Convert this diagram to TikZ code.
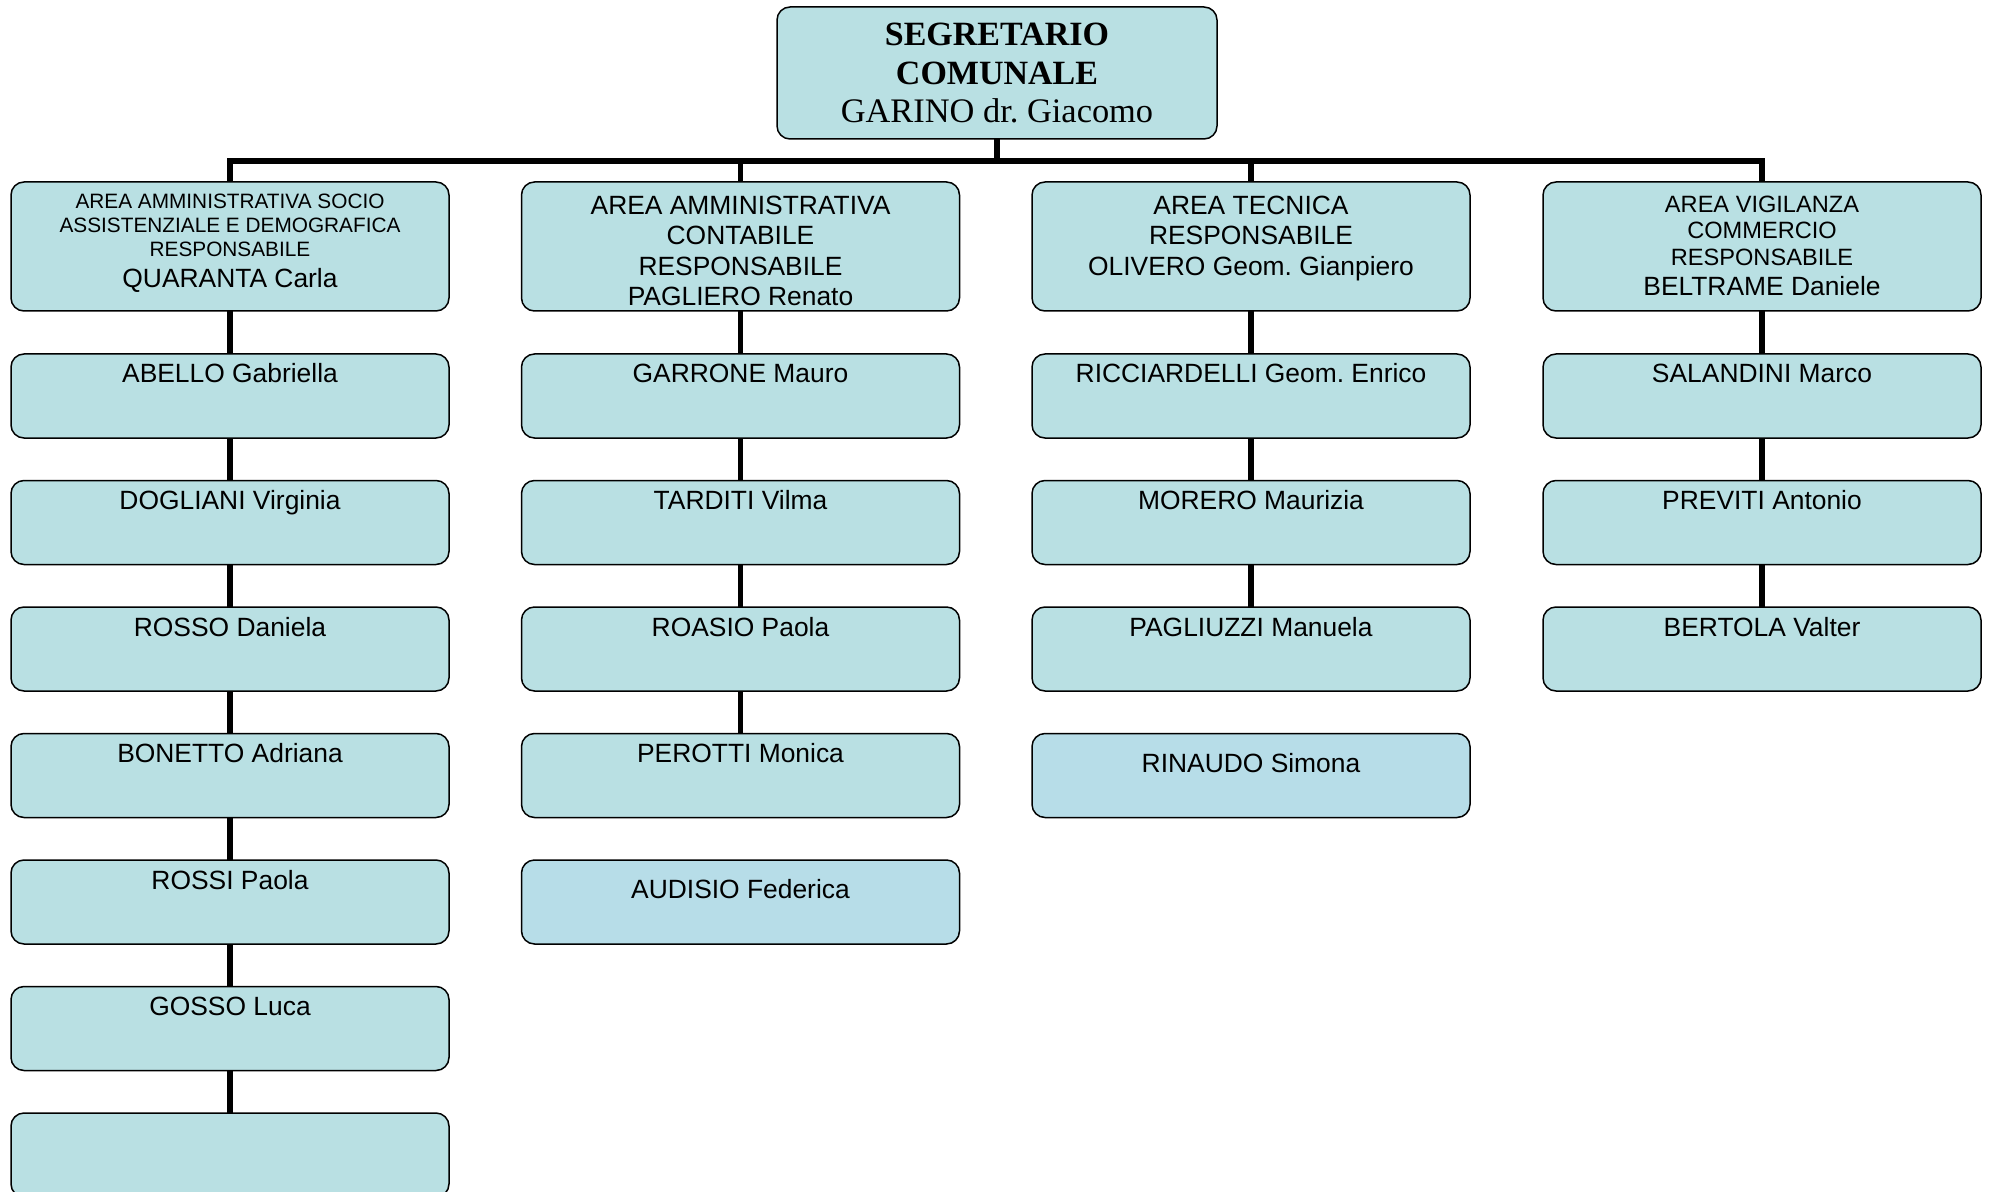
\documentclass[tikz,border=0pt]{standalone}
\usepackage{fontspec}
\setmainfont{Liberation Serif}
\setsansfont{Liberation Sans}
\definecolor{boxfill}{HTML}{B9E0E3}
\definecolor{boxfillb}{HTML}{B7DDE8}
\begin{document}
\frenchspacing
\begin{tikzpicture}[x=0.5pt,y=-0.5pt,
  box/.style={draw=black, line width=0.75pt, rounded corners=6.5pt, fill=boxfill,
    minimum width=219pt, minimum height=42pt, inner sep=0pt, outer sep=0pt},
  boxb/.style={box, fill=boxfillb},
  headbox/.style={box, minimum height=64.5pt},
  topbox/.style={box, minimum width=220pt, minimum height=66pt},
  link/.style={line width=2.85pt},
  nm/.style={font=\sffamily\fontsize{13.2}{15}\selectfont, anchor=base, inner sep=0pt},
  hd/.style={font=\sffamily\fontsize{13.2}{15.2}\selectfont, anchor=north, inner sep=0pt, align=center},
  hdsmall/.style={font=\sffamily\fontsize{10.4}{11.9}\selectfont, anchor=north, inner sep=0pt, align=center},
  hdmid/.style={font=\sffamily\fontsize{11.8}{13.3}\selectfont, anchor=north, inner sep=0pt, align=center}
]
\useasboundingbox (0,0) rectangle (1990,1192);

% top box
\node[topbox] (top) at (997,73) {};
\node[font=\rmfamily\bfseries\fontsize{17}{19.4}\selectfont, anchor=north, inner sep=0pt, align=center] (toptxt) at (997,23) {SEGRETARIO\\COMUNALE};
\node[font=\rmfamily\fontsize{17.2}{19.4}\selectfont, anchor=base, inner sep=0pt] (topname) at (997,123) {GARINO dr. Giacomo};

% header boxes
\node[headbox] (h1) at (230,246.5) {};
\node[headbox] (h2) at (740.5,246.5) {};
\node[headbox] (h3) at (1251,246.5) {};
\node[headbox] (h4) at (1762,246.5) {};

\node[hdsmall] (h1t) at (230,194) {AREA AMMINISTRATIVA SOCIO\\ASSISTENZIALE E DEMOGRAFICA\\RESPONSABILE};
\node[nm] (h1n) at (230,287.7) {QUARANTA Carla};
\node[hd] (h2t) at (740.5,195.5) {AREA AMMINISTRATIVA\\CONTABILE\\RESPONSABILE\\PAGLIERO Renato};
\node[hd] (h3t) at (1251,195.5) {AREA TECNICA\\RESPONSABILE\\OLIVERO Geom. Gianpiero};
\node[hdmid] (h4t) at (1762,195.3) {AREA VIGILANZA\\COMMERCIO\\RESPONSABILE};
\node[nm] (h4n) at (1762,296) {BELTRAME Daniele};

% column 1
\node[box] (a1) at (230,396) {};
\node[box] (a2) at (230,522.5) {};
\node[box] (a3) at (230,649) {};
\node[box] (a4) at (230,775.5) {};
\node[box] (a5) at (230,902) {};
\node[box] (a6) at (230,1028.5) {};
\node[box] (a7) at (230,1155) {};
\node[nm] (a1t) at (230,383) {ABELLO Gabriella};
\node[nm] (a2t) at (230,509.5) {DOGLIANI Virginia};
\node[nm] (a3t) at (230,636) {ROSSO Daniela};
\node[nm] (a4t) at (230,762.5) {BONETTO Adriana};
\node[nm] (a5t) at (230,889) {ROSSI Paola};
\node[nm] (a6t) at (230,1015.5) {GOSSO Luca};

% column 2
\node[box] (b1) at (740.5,396) {};
\node[box] (b2) at (740.5,522.5) {};
\node[box] (b3) at (740.5,649) {};
\node[box] (b4) at (740.5,775.5) {};
\node[boxb] (b5) at (740.5,902) {};
\node[nm] (b1t) at (740.5,383) {GARRONE Mauro};
\node[nm] (b2t) at (740.5,509.5) {TARDITI Vilma};
\node[nm] (b3t) at (740.5,636) {ROASIO Paola};
\node[nm] (b4t) at (740.5,762.5) {PEROTTI Monica};
\node[nm] (b5t) at (740.5,898) {AUDISIO Federica};

% column 3
\node[box] (c1) at (1251,396) {};
\node[box] (c2) at (1251,522.5) {};
\node[box] (c3) at (1251,649) {};
\node[boxb] (c4) at (1251,775.5) {};
\node[nm] (c1t) at (1251,383) {RICCIARDELLI Geom. Enrico};
\node[nm] (c2t) at (1251,509.5) {MORERO Maurizia};
\node[nm] (c3t) at (1251,636) {PAGLIUZZI Manuela};
\node[nm] (c4t) at (1251,772.5) {RINAUDO Simona};

% column 4
\node[box] (d1) at (1762,396) {};
\node[box] (d2) at (1762,522.5) {};
\node[box] (d3) at (1762,649) {};
\node[nm] (d1t) at (1762,383) {SALANDINI Marco};
\node[nm] (d2t) at (1762,509.5) {PREVITI Antonio};
\node[nm] (d3t) at (1762,636) {BERTOLA Valter};

% connectors
\coordinate (bar) at (997,161);
\draw[link] (top.south) -- (bar);
\draw[link] (h1.north) |- (bar) -| (h4.north);
\draw[link] (h2.north) -- (h2.north |- bar);
\draw[link] (h3.north) -- (h3.north |- bar);

\draw[link] (h1.south) -- (a1.north);
\draw[link] (a1.south) -- (a2.north);
\draw[link] (a2.south) -- (a3.north);
\draw[link] (a3.south) -- (a4.north);
\draw[link] (a4.south) -- (a5.north);
\draw[link] (a5.south) -- (a6.north);
\draw[link] (a6.south) -- (a7.north);

\draw[link] (h2.south) -- (b1.north);
\draw[link] (b1.south) -- (b2.north);
\draw[link] (b2.south) -- (b3.north);
\draw[link] (b3.south) -- (b4.north);

\draw[link] (h3.south) -- (c1.north);
\draw[link] (c1.south) -- (c2.north);
\draw[link] (c2.south) -- (c3.north);

\draw[link] (h4.south) -- (d1.north);
\draw[link] (d1.south) -- (d2.north);
\draw[link] (d2.south) -- (d3.north);
\end{tikzpicture}
\end{document}
